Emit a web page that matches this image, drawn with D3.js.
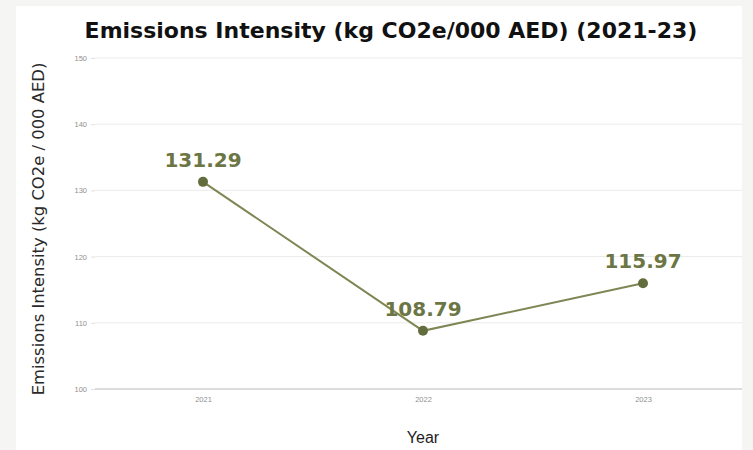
<!DOCTYPE html>
<html><head><meta charset="utf-8">
<script src="https://cdn.jsdelivr.net/npm/d3@7"></script>
<style>
html,body{margin:0;padding:0;background:#f5f5f3;}
svg{display:block;}
</style></head>
<body>
<svg id="chart" width="753" height="450"></svg>
<script>
const years = ["2021", "2022", "2023"];
const intensity = [131.29, 108.79, 115.97];
const yTicks = [100, 110, 120, 130, 140, 150];
const titleText = "Emissions Intensity (kg CO2e/000 AED) (2021-23)";
const yTitle = "Emissions Intensity (kg CO2e / 000 AED)";
const xTitle = "Year";

const data = years.map((y, i) => ({year: y, value: intensity[i]}));
const svg = d3.select("#chart");

// white panel
svg.append("rect").attr("x", 16).attr("y", 6).attr("width", 726).attr("height", 444).attr("fill", "#ffffff");

const x = d3.scalePoint().domain(years).range([93, 753]).padding(0.5);
const y = d3.scaleLinear().domain([100, 150]).range([389, 58]);

// gridlines
const grid = svg.append("g");
grid.selectAll("line").data(yTicks).join("line")
  .attr("x1", 95).attr("x2", 742)
  .attr("y1", d => y(d)).attr("y2", d => y(d))
  .attr("stroke", d => d === 100 ? "#dcdcdc" : "#ebebeb")
  .attr("stroke-width", d => d === 100 ? 2 : 1);

// y axis
const yAxis = svg.append("g").attr("transform", "translate(95,0)")
  .call(d3.axisLeft(y).tickValues(yTicks).tickSize(4).tickPadding(4));
yAxis.select(".domain").remove();
yAxis.selectAll(".tick line").attr("stroke", "#e0e0e0");
yAxis.selectAll("text").attr("fill", "#8f8f8f").style("font-family", "Liberation Sans, Arial, sans-serif").style("font-size", "7.5px");

// x axis
const xAxis = svg.append("g").attr("transform", "translate(0,389)")
  .call(d3.axisBottom(x).tickSize(0).tickPadding(8));
xAxis.select(".domain").remove();
xAxis.selectAll("text").attr("fill", "#8f8f8f").style("font-family", "Liberation Sans, Arial, sans-serif").style("font-size", "7.5px");

// line
svg.append("path").datum(data)
  .attr("fill", "none").attr("stroke", "#7d8754").attr("stroke-width", 2)
  .attr("d", d3.line().x(d => x(d.year)).y(d => y(d.value)));

svg.append("g").selectAll("circle").data(data).join("circle")
  .attr("cx", d => x(d.year)).attr("cy", d => y(d.value)).attr("r", 5)
  .attr("fill", "#626d3d");

svg.append("g").selectAll("text").data(data).join("text")
  .attr("x", d => x(d.year)).attr("y", d => y(d.value) - 15)
  .attr("text-anchor", "middle")
  .attr("fill", "#6b7644")
  .style("font-family", "DejaVu Sans, Verdana, sans-serif")
  .style("font-weight", "bold").style("font-size", "20px")
  .text(d => d.value.toFixed(2));

// title
svg.append("text").attr("x", 391).attr("y", 38).attr("text-anchor", "middle")
  .attr("fill", "#111")
  .style("font-family", "DejaVu Sans, Verdana, sans-serif")
  .style("font-weight", "bold").style("font-size", "22px")
  .text(titleText);

// y title
svg.append("text").attr("transform", "translate(44,229) rotate(-90)")
  .attr("text-anchor", "middle").attr("fill", "#2a2a2a")
  .style("font-family", "DejaVu Sans, Verdana, sans-serif")
  .style("font-size", "16.4px")
  .text(yTitle);

// x title
svg.append("text").attr("x", 423).attr("y", 443).attr("text-anchor", "middle")
  .attr("fill", "#1e1e1e")
  .style("font-family", "Liberation Sans, Arial, sans-serif")
  .style("font-size", "16px")
  .text(xTitle);
</script>
</body></html>
